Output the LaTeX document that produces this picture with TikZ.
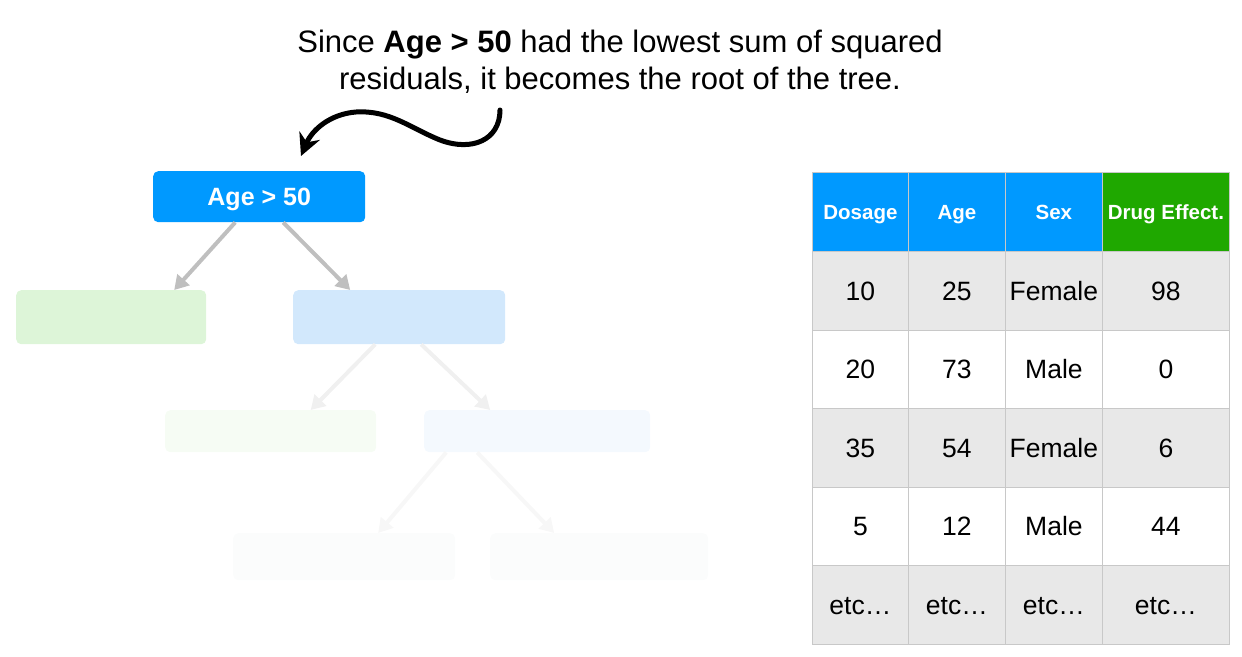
\documentclass[tikz,border=0pt]{standalone}
\usepackage{fontspec}
\setmainfont{Liberation Sans}
\usetikzlibrary{arrows.meta}
\definecolor{hdrblue}{RGB}{0,153,255}
\definecolor{hdrgreen}{RGB}{31,168,0}
\definecolor{rowgray}{RGB}{232,232,232}
\definecolor{gridline}{RGB}{200,200,200}
\definecolor{leafgreen}{RGB}{221,245,216}
\definecolor{leafblue}{RGB}{210,232,252}
\definecolor{fadegreen}{RGB}{246,252,244}
\definecolor{fadeblue}{RGB}{244,249,254}
\definecolor{fadest}{RGB}{251,252,252}
\tikzset{
  treebox/.style={rounded corners=5pt, minimum height=#1, inner sep=0pt, anchor=north west},
  cell/.style={draw=gridline, line width=0.8pt, minimum height=78.5pt, inner sep=0pt, anchor=north west},
  hdr/.style={cell, text=white, text height=17pt, text depth=1pt, font=\fontsize{20.5}{24}\selectfont\bfseries},
  body/.style={cell, text height=20pt, text depth=1pt, font=\fontsize{26.5}{30}\selectfont},
  branch/.style={line width=4pt, -{Triangle[length=14pt,width=16pt]}}
}
\begin{document}
\begin{tikzpicture}[x=1pt,y=-1pt]
\useasboundingbox (0,0) rectangle (1242,656);
% title
\node[align=center, font=\fontsize{31}{37}\selectfont] (title) at (620,62)
  {Since \textbf{Age > 50} had the lowest sum of squared\\residuals, it becomes the root of the tree.};
% curvy arrow
\coordinate (cs) at (500,110);
\coordinate (ce) at (301,156);
\draw[line width=5pt, line cap=round, -{Stealth[length=22pt,width=22pt]}]
  (cs) .. controls (500,140) and (472,152) .. (440,140)
       .. controls (410,128) and (390,110) .. (356,112)
       .. controls (330,114) and (312,130) .. (ce);
% tree
\node[treebox=51pt, minimum width=212pt, fill=hdrblue] (root) at (153,171) {};
\node[text=white, text height=18pt, text depth=0pt, font=\fontsize{25}{30}\selectfont\bfseries] (rootlabel) at (root.center) {Age > 50};
\node[treebox=54pt, minimum width=190pt, fill=leafgreen] (l1) at (16,290) {};
\node[treebox=54pt, minimum width=212pt, fill=leafblue] (r1) at (293,290) {};
\draw[branch, draw=black!25] ([xshift=-24pt]root.south) -- ([xshift=63pt]l1.north);
\draw[branch, draw=black!25] ([xshift=24pt]root.south) -- ([xshift=-49pt]r1.north);
\node[treebox=42pt, minimum width=211pt, fill=fadegreen] (l2) at (165,410) {};
\node[treebox=42pt, minimum width=226pt, fill=fadeblue] (r2) at (424,410) {};
\draw[branch, draw=black!6] ([xshift=-24pt]r1.south) -- ([xshift=40pt]l2.north);
\draw[branch, draw=black!6] ([xshift=22pt]r1.south) -- ([xshift=-47pt]r2.north);
\node[treebox=47pt, minimum width=222pt, fill=fadest] (l3) at (233,533) {};
\node[treebox=47pt, minimum width=218pt, fill=fadest] (r3) at (490,533) {};
\draw[branch, draw=black!3] ([xshift=-91pt]r2.south) -- ([xshift=34pt]l3.north);
\draw[branch, draw=black!3] ([xshift=-60pt]r2.south) -- ([xshift=-45pt]r3.north);
% table
\node[hdr, fill=hdrblue, minimum width=96pt] (h1) at (812,172) {Dosage};
\node[hdr, fill=hdrblue, minimum width=97pt] (h2) at (908,172) {Age};
\node[hdr, fill=hdrblue, minimum width=97pt] (h3) at (1005,172) {Sex};
\node[hdr, fill=hdrgreen, minimum width=127pt] (h4) at (1102,172) {Drug Effect.};
\foreach \r/\y/\bg/\a/\b/\c/\d in {
  1/251/rowgray/10/25/Female/98,
  2/329.5/white/20/73/Male/0,
  3/408/rowgray/35/54/Female/6,
  4/486.5/white/5/12/Male/44,
  5/565/rowgray/etc\ldots/etc\ldots/etc\ldots/etc\ldots}{
  \node[body, fill=\bg, minimum width=96pt] (c\r-1) at (812,\y) {\a};
  \node[body, fill=\bg, minimum width=97pt] (c\r-2) at (908,\y) {\b};
  \node[body, fill=\bg, minimum width=97pt] (c\r-3) at (1005,\y) {\c};
  \node[body, fill=\bg, minimum width=127pt] (c\r-4) at (1102,\y) {\d};
}
\end{tikzpicture}
\end{document}
